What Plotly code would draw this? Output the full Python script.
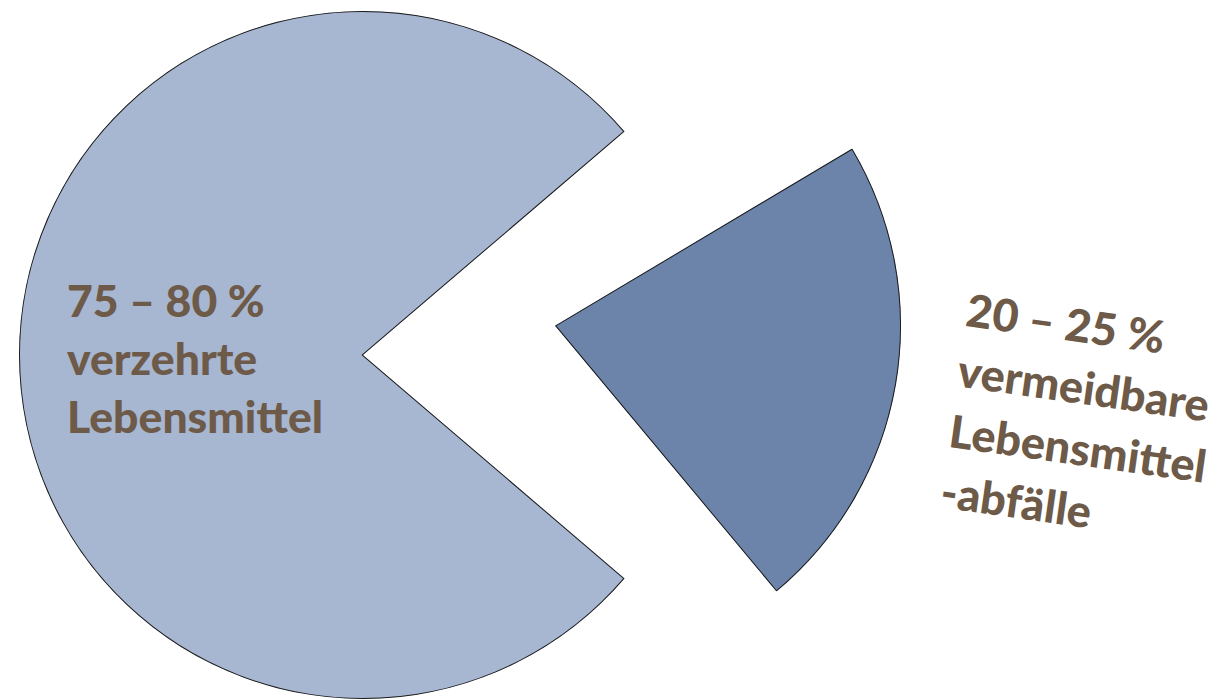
import math
import plotly.graph_objects as go

# Share of purchased food: eaten vs. avoidable waste (ranges in percent)
categories = ["verzehrte Lebensmittel", "vermeidbare Lebensmittelabfälle"]
share_low = [75, 20]
share_high = [80, 25]
label_lines = [["verzehrte", "Lebensmittel"], ["vermeidbare", "Lebensmittel", "-abfälle"]]

# styling
slice_colors = ["#A7B6D1", "#6C84AA"]
outline_color = "#1c1c1c"
text_color = "#6D5A48"
font_family = "Lato, 'Open Sans', sans-serif"

W, H = 1216, 699

# Each wedge lives in its own polar subplot so it can be placed freely:
# (direction the wedge points in degrees, apex x px, apex y px, radius px)
wedge_layout = [
    (180.0, 363, 355, 344),
    (-9.7, 555, 325.7, 346),
]

shares = [(lo + hi) / 2 for lo, hi in zip(share_low, share_high)]
widths = [s * 3.6 for s in shares]


def sector_bbox(sector):
    """Bounding box of a unit-radius wedge (including apex) for the given sector."""
    a0, a1 = sector
    angles = [a0, a1]
    k = math.ceil(a0 / 90.0)
    while k * 90 < a1:
        angles.append(k * 90)
        k += 1
    xs = [0.0] + [math.cos(math.radians(a)) for a in angles]
    ys = [0.0] + [math.sin(math.radians(a)) for a in angles]
    return min(xs), min(ys), max(xs), max(ys)


def polar_domain(cx, cy, radius, sector):
    x0, y0, x1, y1 = sector_bbox(sector)
    left = cx + x0 * radius
    right = cx + x1 * radius
    top = cy - y1 * radius
    bottom = cy - y0 * radius
    dx = [max(0.0, left / W), min(1.0, right / W)]
    dy = [max(0.0, (H - bottom) / H), min(1.0, (H - top) / H)]
    return dict(x=dx, y=dy)


fig = go.Figure()
layout_polars = {}
for i, (cat, w) in enumerate(zip(categories, widths)):
    center, cx, cy, rad = wedge_layout[i]
    name = "polar" if i == 0 else f"polar{i + 1}"
    sector = [center - w / 2, center + w / 2]
    fig.add_trace(go.Barpolar(
        r=[1],
        theta=[center],
        width=[w],
        name=cat,
        subplot=name,
        marker=dict(color=slice_colors[i], line=dict(color=outline_color, width=2)),
        hovertemplate=f"{cat}: {share_low[i]}–{share_high[i]} %<extra></extra>",
    ))
    layout_polars[name] = dict(
        domain=polar_domain(cx, cy, rad, sector),
        sector=sector,
        bgcolor="rgba(0,0,0,0)",
        hole=0,
        radialaxis=dict(visible=False, range=[0, 1], showgrid=False, showline=False),
        angularaxis=dict(visible=False, rotation=0, direction="counterclockwise",
                         showgrid=False, showline=False, ticks=""),
    )

range_text = [f"{lo} – {hi} %" for lo, hi in zip(share_low, share_high)]

# label inside the large wedge
left_text = "<br>".join([range_text[0]] + label_lines[0])

# tilted label beside the small wedge (slightly wider line spacing)
glyph = 45
right_text = "<br>".join(
    f"<span style='font-size:{glyph}px'>{t}</span>" for t in [range_text[1]] + label_lines[1]
)

fig.update_layout(
    **layout_polars,
    width=W,
    height=H,
    margin=dict(l=0, r=0, t=0, b=0),
    paper_bgcolor="white",
    plot_bgcolor="white",
    showlegend=False,
    annotations=[
        dict(text=left_text, x=65 / W, y=(H - 357) / H, xref="paper", yref="paper",
             xanchor="left", yanchor="middle", align="left", showarrow=False,
             font=dict(family=font_family, size=44.5, color=text_color, weight=900)),
        dict(text=right_text, x=1082 / W, y=(H - 417) / H, xref="paper", yref="paper",
             xanchor="center", yanchor="middle", align="left", showarrow=False, textangle=8,
             font=dict(family=font_family, size=47, color=text_color, weight=900)),
    ],
)

fig.write_html("out.html")
